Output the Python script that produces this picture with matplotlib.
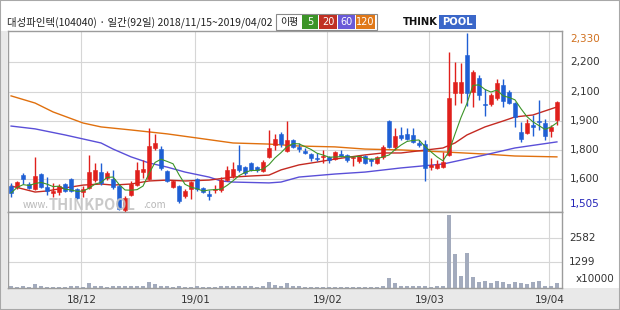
import matplotlib
matplotlib.use("Agg")
import matplotlib.pyplot as plt
import matplotlib.transforms as mtransforms
from matplotlib.patches import Rectangle
import pandas as pd

plt.rcParams["font.family"] = ["Noto Sans CJK KR", "DejaVu Sans"]

TITLE = "대성파인텍(104040) · 일간(92일) 2018/11/15~2019/04/02"

# daily candles, 2018/11/15 .. 2019/04/02 (92 trading days)
OPEN = [1625, 1620, 1675, 1634, 1611, 1680, 1620, 1593, 1597, 1634,
        1657, 1611, 1597, 1616, 1652, 1689, 1662, 1657, 1625, 1514,
        1583, 1629, 1689, 1657, 1800, 1795, 1694, 1620, 1625, 1579,
        1611, 1657, 1616, 1588, 1606, 1606, 1652, 1671, 1721, 1712,
        1731, 1712, 1694, 1758, 1814, 1864, 1786, 1837, 1804, 1786,
        1772, 1754, 1758, 1758, 1749, 1772, 1768, 1754, 1740, 1763,
        1749, 1731, 1758, 1924, 1804, 1860, 1864, 1860, 1823, 1818,
        1712, 1708, 1712, 1768, 2053, 2053, 2229, 2058, 2122, 2003,
        2003, 2030, 2090, 2058, 2007, 1874, 1869, 1906, 1924, 1915,
        1878, 1929]
HIGH = [1639, 1648, 1685, 1643, 1758, 1685, 1666, 1639, 1634, 1639,
        1662, 1616, 1625, 1768, 1731, 1731, 1694, 1698, 1634, 1579,
        1648, 1735, 1745, 1892, 1864, 1809, 1698, 1652, 1629, 1611,
        1648, 1662, 1620, 1606, 1629, 1666, 1717, 1735, 1814, 1717,
        1735, 1717, 1745, 1883, 1864, 1874, 1924, 1841, 1823, 1800,
        1777, 1777, 1791, 1763, 1786, 1791, 1772, 1763, 1768, 1768,
        1754, 1763, 1814, 1929, 1892, 1897, 1892, 1892, 1837, 1837,
        1754, 1745, 1781, 2242, 2196, 2192, 2330, 2159, 2136, 2072,
        2053, 2118, 2118, 2067, 2012, 1920, 1934, 1952, 2021, 1934,
        1906, 2017]
LOW = [1574, 1611, 1634, 1611, 1606, 1616, 1583, 1574, 1583, 1597,
       1597, 1565, 1574, 1611, 1643, 1629, 1652, 1611, 1514, 1505,
       1579, 1625, 1662, 1652, 1791, 1698, 1643, 1616, 1546, 1569,
       1565, 1602, 1593, 1560, 1593, 1597, 1648, 1662, 1689, 1675,
       1694, 1689, 1689, 1754, 1791, 1804, 1781, 1800, 1781, 1772,
       1740, 1740, 1731, 1731, 1745, 1758, 1735, 1717, 1731, 1726,
       1717, 1726, 1749, 1800, 1791, 1837, 1837, 1823, 1804, 1648,
       1698, 1703, 1708, 1763, 1998, 2007, 1993, 1989, 2021, 1947,
       1993, 2021, 1989, 2003, 1897, 1828, 1864, 1855, 1883, 1837,
       1851, 1906]
CLOSE = [1593, 1643, 1657, 1616, 1671, 1620, 1602, 1602, 1625, 1602,
         1602, 1569, 1611, 1689, 1698, 1639, 1685, 1620, 1519, 1569,
         1634, 1698, 1703, 1809, 1823, 1708, 1648, 1648, 1556, 1602,
         1643, 1611, 1597, 1579, 1611, 1652, 1698, 1703, 1698, 1685,
         1698, 1698, 1735, 1800, 1841, 1818, 1837, 1804, 1795, 1777,
         1754, 1749, 1763, 1745, 1781, 1763, 1745, 1758, 1763, 1731,
         1740, 1758, 1804, 1804, 1855, 1846, 1841, 1828, 1814, 1708,
         1721, 1726, 1735, 2030, 2104, 2104, 2053, 2150, 2044, 1998,
         2044, 2099, 2017, 2007, 1943, 1841, 1915, 1897, 1920, 1855,
         1897, 2012]
# volume, x10000 shares
VOLUME = [60, 50, 60, 50, 160, 60, 50, 40, 50, 50,
          60, 60, 50, 210, 80, 60, 50, 60, 70, 90,
          60, 70, 90, 260, 180, 80, 60, 50, 60, 50,
          50, 60, 50, 50, 50, 60, 60, 70, 90, 60,
          60, 50, 60, 310, 150, 100, 240, 80, 60, 50,
          50, 40, 50, 40, 50, 40, 50, 40, 50, 50,
          40, 50, 80, 480, 220, 100, 100, 100, 100, 100,
          50, 60, 100, 3770, 1740, 570, 1770, 530, 280, 330,
          220, 360, 260, 190, 260, 210, 200, 260, 360, 100,
          100, 210]

# longer moving averages (day index -> price)
MA20_X = [0, 2, 4, 6, 9, 12, 15, 17, 20, 23, 26, 29, 33, 37, 40, 43, 45, 48,
          51, 54, 59, 62, 65, 72, 74, 76, 79, 82, 84, 87, 91]
MA20_Y = [1625, 1611, 1597, 1602, 1616, 1629, 1634, 1629, 1634, 1648, 1652,
          1648, 1652, 1666, 1671, 1675, 1699, 1722, 1735, 1749, 1768, 1777,
          1777, 1800, 1823, 1860, 1897, 1924, 1943, 1952, 1989]
MA60_X = [0, 4, 9, 15, 17, 20, 23, 26, 29, 33, 35, 37, 43, 45, 48, 54, 59,
          65, 72, 79, 84, 91]
MA60_Y = [1901, 1888, 1860, 1823, 1795, 1759, 1731, 1712, 1689, 1666, 1648,
          1643, 1639, 1643, 1666, 1680, 1689, 1708, 1726, 1768, 1800, 1828]
MA120_X = [0, 4, 7, 12, 15, 20, 26, 31, 37, 43, 48, 54, 59, 65, 72, 79, 84, 91]
MA120_Y = [2040, 2007, 1966, 1915, 1897, 1883, 1865, 1846, 1823, 1818, 1809,
           1805, 1795, 1791, 1782, 1772, 1763, 1759]

GRID_PRICES = [2195, 2060, 1925, 1790, 1655]
GRID_LABELS = ["2,200", "2,100", "1,900", "1,800", "1,600"]
VOL_TICKS = [1299, 2582]
MONTH_START = [12, 31, 53, 70, 90]
MONTH_LABELS = ["18/12", "19/01", "19/02", "19/03", "19/04"]

UP, DOWN = "#e0201c", "#1f5fd4"
C_MA5, C_MA20, C_MA60, C_MA120 = "#3c9428", "#c42a22", "#5a4fd8", "#e0700e"
GRID = "#d6d6d6"
FRAME = "#9c9c9c"

W, H = 620, 310


def fx(x):
    return x / W


def fy(y):
    return 1 - y / H


fig = plt.figure(figsize=(6.2, 3.1), dpi=100)
fig.patch.set_facecolor("white")

# light grey bands around the plot
fig.add_artist(Rectangle((0, 0), 1, fy(288), transform=fig.transFigure,
                         facecolor="#e9e9e9", edgecolor="none", zorder=0))
fig.add_artist(Rectangle((0, 0), fx(7), fy(31), transform=fig.transFigure,
                         facecolor="#e9e9e9", edgecolor="none", zorder=0))
fig.add_artist(Rectangle((0, 0), 1, 1, transform=fig.transFigure, fill=False,
                         edgecolor="#a8a8a8", linewidth=1.5, zorder=10))

left, right = 7.5, 562
ax = fig.add_axes([fx(left), fy(212), fx(right - left), fy(31) - fy(212)])
axv = fig.add_axes([fx(left), fy(287.5), fx(right - left), fy(212) - fy(287.5)], sharex=ax)

n = len(CLOSE)
idx = list(range(n))

# price panel
ax.set_ylim(1505, 2339)
ax.set_xlim(-0.6, 91.85)
for p in GRID_PRICES:
    ax.axhline(p, color=GRID, lw=0.8, zorder=0)
for m in MONTH_START:
    ax.axvline(m - 0.4, color=GRID, lw=0.8, zorder=0)
    axv.axvline(m - 0.4, color=GRID, lw=0.8, zorder=0)

ax.plot(MA120_X, MA120_Y, color=C_MA120, lw=1.0, zorder=2)
ax.plot(MA60_X, MA60_Y, color=C_MA60, lw=1.0, zorder=2)
ax.plot(MA20_X, MA20_Y, color=C_MA20, lw=1.0, zorder=2)

for i in idx:
    o, h, l, c = OPEN[i], HIGH[i], LOW[i], CLOSE[i]
    col = UP if c >= o else DOWN
    ax.vlines(i, l, h, color=col, lw=1.0, zorder=3)
    lo = min(o, c)
    ax.bar(i, max(abs(c - o), 4), bottom=lo, width=0.72, color=col,
           edgecolor=col, linewidth=0.4, zorder=4)

ma5 = pd.Series(CLOSE).rolling(5, min_periods=1).mean()
ax.plot(idx, ma5, color=C_MA5, lw=0.8, zorder=5)

for a in (ax, axv):
    for s in a.spines.values():
        s.set_color(FRAME)
        s.set_linewidth(1.0)
    a.tick_params(length=0, labelleft=False, labelright=False, labelbottom=False)
    a.set_yticks([])
    a.set_xticks([])

trans = mtransforms.blended_transform_factory(ax.transAxes, ax.transData)
xlab = (570 - left) / (right - left)
for p, lab in zip(GRID_PRICES, GRID_LABELS):
    ax.text(xlab, p, lab, transform=trans, fontsize=7.5, color="#333333",
            va="center", ha="left", family="DejaVu Sans")
ax.text(xlab, 0.985, "2,330", transform=ax.transAxes, fontsize=7.5,
        color="#d0701e", va="top", ha="left", family="DejaVu Sans")
ax.text(xlab, 0.015, "1,505", transform=ax.transAxes, fontsize=7.5,
        color="#2424b8", va="bottom", ha="left", family="DejaVu Sans")

# watermark
ax.text(0.027, 0.04, "www.", transform=ax.transAxes, fontsize=7, color="#b8b8b8",
        ha="left", va="center", zorder=6)
ax.text(0.075, 0.04, "THINKPOOL", transform=ax.transAxes, fontsize=10.5,
        color="#c4c4c4", fontweight="bold", ha="left", va="center", alpha=0.9, zorder=6)
ax.text(0.245, 0.04, ".com", transform=ax.transAxes, fontsize=7, color="#b8b8b8",
        ha="left", va="center", zorder=6)

# volume panel
axv.set_ylim(0, 3903)
for v in VOL_TICKS:
    axv.axhline(v, color=GRID, lw=0.8, zorder=0)
axv.bar(idx, VOLUME, width=0.72, color="#a3abbd", zorder=2)
transv = mtransforms.blended_transform_factory(axv.transAxes, axv.transData)
for v in VOL_TICKS:
    axv.text((569 - left) / (right - left), v, str(v), transform=transv, fontsize=7.5,
             color="#333333", va="center", ha="left", family="DejaVu Sans")
axv.text((576 - left) / (right - left), 0.05, "x10000", transform=axv.transAxes,
         fontsize=7.5, color="#333333", va="bottom", ha="left", family="DejaVu Sans")

transx = mtransforms.blended_transform_factory(axv.transData, fig.transFigure)
for m, lab in zip(MONTH_START, MONTH_LABELS):
    fig.text(m - 0.2, fy(300), lab, transform=transx, fontsize=7.5, color="#333333",
             ha="center", va="center", family="DejaVu Sans")

# header
fig.text(fx(7), fy(22), TITLE, fontsize=7.5, color="#222222", ha="left", va="center")
fig.add_artist(Rectangle((fx(276), fy(30)), fx(101), fy(14) - fy(30),
                         transform=fig.transFigure, facecolor="white",
                         edgecolor="#8a8a8a", linewidth=0.8, zorder=3))
fig.text(fx(289), fy(22), "이평", fontsize=7.2, color="#222222", ha="center", va="center")
for x0, w, col, lab in [(302, 16, C_MA5, "5"), (319, 18, "#c03024", "20"),
                        (338, 17, "#6a5ad8", "60"), (356, 19, "#e07818", "120")]:
    fig.add_artist(Rectangle((fx(x0), fy(29)), fx(w), fy(15) - fy(29),
                             transform=fig.transFigure, facecolor=col,
                             edgecolor="none", zorder=4))
    fig.text(fx(x0 + w / 2), fy(22), lab, fontsize=7, color="white",
             ha="center", va="center", zorder=5, family="DejaVu Sans")

# logo
fig.text(fx(438), fy(22), "THINK", fontsize=7.2, fontweight="bold", color="#111111",
         ha="right", va="center", family="DejaVu Sans")
fig.add_artist(Rectangle((fx(439), fy(29)), fx(37), fy(15) - fy(29),
                         transform=fig.transFigure, facecolor="#3b67c9",
                         edgecolor="none", zorder=4))
fig.text(fx(457.5), fy(22), "POOL", fontsize=7.2, fontweight="bold", color="white",
         ha="center", va="center", zorder=5, family="DejaVu Sans")

fig.savefig("out.png", dpi=100)
